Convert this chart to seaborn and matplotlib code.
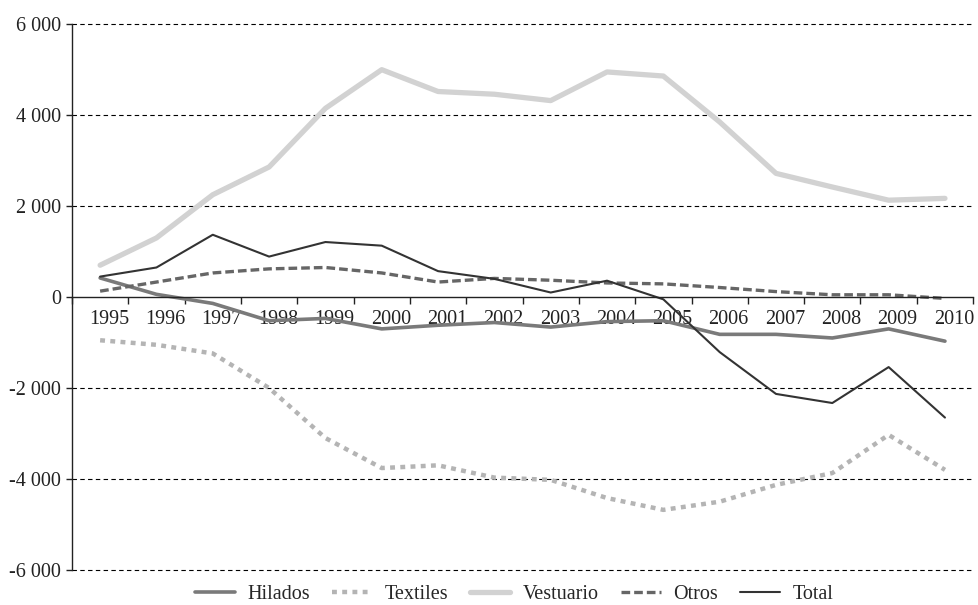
import matplotlib
matplotlib.use("Agg")
import matplotlib.pyplot as plt
import matplotlib.transforms as mtransforms
import seaborn as sns
import pandas as pd
import numpy as np

years = list(range(1995, 2011))
hilados = [420, 60, -140, -520, -470, -700, -620, -560, -660, -540, -520, -820, -820, -900, -700, -970]
textiles = [-950, -1050, -1240, -2000, -3100, -3760, -3700, -3970, -4020, -4420, -4680, -4500, -4130, -3870, -3030, -3800]
vestuario = [700, 1300, 2250, 2860, 4150, 5000, 4520, 4460, 4320, 4950, 4860, 3850, 2720, 2420, 2130, 2170]
otros = [130, 330, 530, 620, 650, 530, 330, 410, 370, 310, 290, 210, 120, 50, 50, -30]
total = [450, 650, 1370, 890, 1210, 1130, 570, 400, 100, 360, -50, -1210, -2130, -2330, -1540, -2650]

series = ["Hilados", "Textiles", "Vestuario", "Otros", "Total"]
values = [hilados, textiles, vestuario, otros, total]
y_ticks = [-6000, -4000, -2000, 0, 2000, 4000, 6000]

sns.set_theme(style="white")
plt.rcParams["font.family"] = ["Liberation Serif", "DejaVu Serif"]
plt.rcParams["xtick.labelsize"] = 14.5
plt.rcParams["ytick.labelsize"] = 14.5
plt.rcParams["legend.fontsize"] = 14.5

rows = []
for name, vals in zip(series, values):
    for i, v in enumerate(vals):
        rows.append({"pos": i, "serie": name, "valor": v})
df = pd.DataFrame(rows)

palette = {"Hilados": "#7a7a7a", "Textiles": "#b4b4b4", "Vestuario": "#d2d2d2",
           "Otros": "#666666", "Total": "#333333"}
sizes = {"Hilados": 2.6, "Textiles": 3.2, "Vestuario": 3.8, "Otros": 2.4, "Total": 1.5}
dashes = {"Hilados": "", "Textiles": (1.1, 1.2), "Vestuario": "", "Otros": (2.6, 1.2), "Total": ""}

fig = plt.figure(figsize=(9.79, 6.05), dpi=100)
ax = fig.add_axes([0.0735, 0.058, 0.9205, 0.902])

sns.lineplot(data=df, x="pos", y="valor", hue="serie", size="serie", style="serie",
             palette=palette, sizes=sizes, dashes=dashes, hue_order=series,
             size_order=series, style_order=series, ax=ax, legend="full")

ax.set_xlim(-0.5, len(years) - 0.5)
ax.set_ylim(-6000, 6000)
ax.set_xlabel("")
ax.set_ylabel("")

ax.spines["top"].set_visible(False)
ax.spines["right"].set_visible(False)
ax.spines["bottom"].set_position(("data", 0))
for side in ["left", "bottom"]:
    ax.spines[side].set_color("#222222")
    ax.spines[side].set_linewidth(1)

ax.tick_params(axis="x", which="major", length=0, pad=9, colors="#222222")
ax.tick_params(axis="x", which="minor", length=5, width=1, direction="out",
               bottom=True, top=False, color="#222222")
ax.tick_params(axis="y", length=4, width=1, direction="out", left=True, pad=4,
               colors="#222222")

ax.set_yticks(y_ticks)
ax.set_yticklabels([f"{v:,}".replace(",", " ") for v in y_ticks])
for v in y_ticks:
    if v != 0:
        ax.axhline(v, color="black", lw=0.8, ls=(0, (4, 3)), zorder=0, clip_on=False)

ax.set_xticks(np.arange(-0.5, len(years)), minor=True)
ax.set_xticks(range(len(years)))
ax.set_xticklabels([str(y) for y in years])
offset = mtransforms.ScaledTranslation(0.09, 0, fig.dpi_scale_trans)
for lab in ax.get_xticklabels():
    lab.set_transform(lab.get_transform() + offset)

handles, labels = ax.get_legend_handles_labels()
ax.get_legend().remove()
fig.legend(handles, labels, loc="center", bbox_to_anchor=(0.525, 0.018), ncol=5,
           frameon=False, handlelength=2.0, columnspacing=1.1,
           handletextpad=0.6, borderaxespad=0)

fig.savefig("out.png", dpi=100)
